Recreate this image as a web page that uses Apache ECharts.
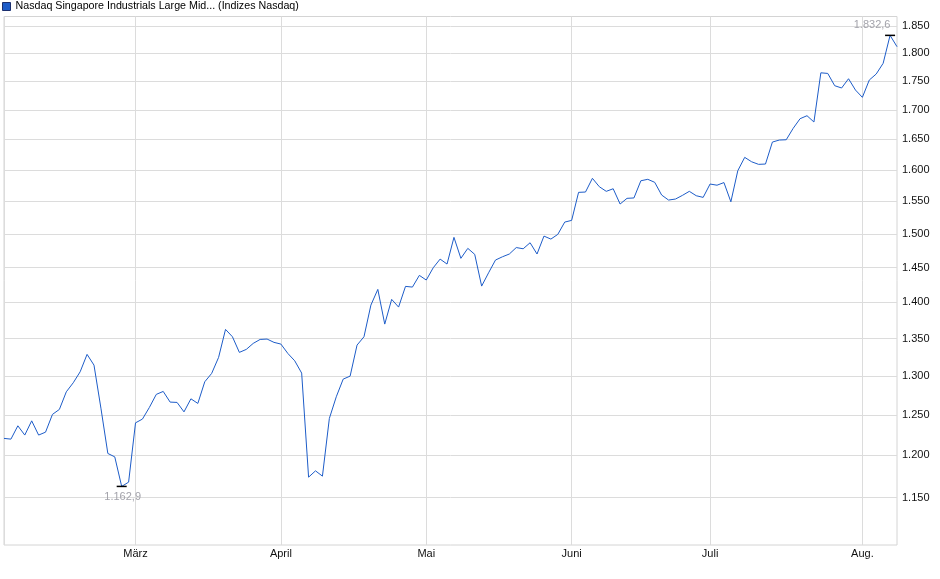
<!DOCTYPE html>
<html>
<head>
<meta charset="utf-8">
<title>Nasdaq Singapore Industrials Large Mid</title>
<script src="https://cdn.jsdelivr.net/npm/echarts@6/dist/echarts.min.js"></script>
<style>
  html, body { margin: 0; padding: 0; background: #fff; }
  #chart { width: 940px; height: 579px; }
</style>
</head>
<body>
<div id="chart"></div>
<script>
// Handelstage (Nasdaq-Kalender 2025)
var dates = [
  "2025-02-03","2025-02-04","2025-02-05","2025-02-06","2025-02-07","2025-02-10","2025-02-11","2025-02-12","2025-02-13","2025-02-14",
  "2025-02-18","2025-02-19","2025-02-20","2025-02-21","2025-02-24","2025-02-25","2025-02-26","2025-02-27","2025-02-28",
  "2025-03-03","2025-03-04","2025-03-05","2025-03-06","2025-03-07","2025-03-10","2025-03-11","2025-03-12","2025-03-13","2025-03-14",
  "2025-03-17","2025-03-18","2025-03-19","2025-03-20","2025-03-21","2025-03-24","2025-03-25","2025-03-26","2025-03-27","2025-03-28","2025-03-31",
  "2025-04-01","2025-04-02","2025-04-03","2025-04-04","2025-04-07","2025-04-08","2025-04-09","2025-04-10","2025-04-11","2025-04-14",
  "2025-04-15","2025-04-16","2025-04-17","2025-04-21","2025-04-22","2025-04-23","2025-04-24","2025-04-25","2025-04-28","2025-04-29","2025-04-30",
  "2025-05-01","2025-05-02","2025-05-05","2025-05-06","2025-05-07","2025-05-08","2025-05-09","2025-05-12","2025-05-13","2025-05-14",
  "2025-05-15","2025-05-16","2025-05-19","2025-05-20","2025-05-21","2025-05-22","2025-05-23","2025-05-27","2025-05-28","2025-05-29","2025-05-30",
  "2025-06-02","2025-06-03","2025-06-04","2025-06-05","2025-06-06","2025-06-09","2025-06-10","2025-06-11","2025-06-12","2025-06-13",
  "2025-06-16","2025-06-17","2025-06-18","2025-06-20","2025-06-23","2025-06-24","2025-06-25","2025-06-26","2025-06-27","2025-06-30",
  "2025-07-01","2025-07-02","2025-07-03","2025-07-07","2025-07-08","2025-07-09","2025-07-10","2025-07-11","2025-07-14","2025-07-15",
  "2025-07-16","2025-07-17","2025-07-18","2025-07-21","2025-07-22","2025-07-23","2025-07-24","2025-07-25","2025-07-28","2025-07-29","2025-07-30","2025-07-31",
  "2025-08-01","2025-08-04","2025-08-05","2025-08-06","2025-08-07","2025-08-08"
];

// Schlusskurse (aus dem Bild geschaetzt)
var closes = [
  1220.6, 1219.7, 1236.2, 1224.7, 1242.4, 1224.7, 1228.3, 1250.5, 1256.8, 1279.3,
  1291.0, 1305.4, 1328.5, 1314.2, 1258.4, 1202.2, 1198.1, 1162.9, 1167.9,
  1239.9, 1244.6, 1259.3, 1276.0, 1279.8, 1266.1, 1265.7, 1253.7, 1270.3, 1264.4,
  1292.3, 1303.3, 1324.5, 1362.4, 1352.3, 1331.2, 1335.2, 1343.3, 1348.7, 1349.2, 1344.7,
  1342.4, 1329.8, 1319.9, 1303.7, 1173.8, 1181.3, 1175.0, 1245.4, 1272.9, 1295.8,
  1299.7, 1341.0, 1352.3, 1396.2, 1418.5, 1369.7, 1404.3, 1393.4, 1422.8, 1421.8, 1438.7,
  1431.9, 1449.7, 1462.5, 1455.2, 1494.9, 1463.6, 1478.4, 1469.5, 1423.2, 1442.4,
  1461.1, 1465.9, 1470.0, 1479.6, 1477.8, 1486.8, 1470.0, 1496.8, 1492.3, 1499.4, 1518.1,
  1520.7, 1564.3, 1564.8, 1586.6, 1573.2, 1565.9, 1570.0, 1546.0, 1554.9, 1555.5,
  1582.7, 1585.0, 1580.2, 1560.1, 1552.2, 1553.8, 1559.5, 1565.9, 1559.0, 1556.4,
  1577.5, 1575.6, 1579.8, 1549.5, 1598.8, 1620.5, 1613.3, 1609.1, 1609.6, 1645.7,
  1649.0, 1649.5, 1668.6, 1684.9, 1690.0, 1679.3, 1764.7, 1763.6, 1741.9, 1737.9, 1754.2, 1734.3,
  1721.6, 1751.9, 1762.6, 1781.7, 1832.6, 1811.8
];

var yTicks = [1150, 1200, 1250, 1300, 1350, 1400, 1450, 1500, 1550, 1600, 1650, 1700, 1750, 1800, 1850];
var monthNames = { "02": "Feb.", "03": "März", "04": "April", "05": "Mai", "06": "Juni", "07": "Juli", "08": "Aug." };
var seriesName = "Nasdaq Singapore Industrials Large Mid... (Indizes Nasdaq)";

var FONT = "'Liberation Sans', Arial, sans-serif";

function isMonthStart(i) {
  return i === 0 || dates[i].slice(5, 7) !== dates[i - 1].slice(5, 7);
}

// 1850 -> "1.850"
function fmtInt(v) {
  var s = String(Math.round(v));
  return s.length > 3 ? s.slice(0, -3) + "." + s.slice(-3) : s;
}

// 1832.6 -> "1.832,6"
function fmtDec(v) {
  var parts = v.toFixed(1).split(".");
  return fmtInt(Number(parts[0])) + "," + parts[1];
}

var myChart = echarts.init(document.getElementById("chart"));
var option = {
  animation: false,
  textStyle: { fontFamily: FONT },
  legend: {
    data: [seriesName],
    left: 0,
    top: 0,
    padding: [1, 2],
    icon: "rect",
    itemWidth: 8,
    itemHeight: 8,
    itemGap: 4,
    itemStyle: { borderColor: "#1b2f6e", borderWidth: 1 },
    textStyle: { fontSize: 10.7, color: "#000", fontFamily: FONT },
    selectedMode: false
  },
  grid: {
    left: 4,
    right: 43,
    top: 16.5,
    bottom: 34,
    show: true,
    borderColor: "#d4d4d4",
    borderWidth: 1
  },
  xAxis: {
    type: "category",
    data: dates,
    boundaryGap: false,
    axisLine: { show: false },
    axisTick: { show: false },
    axisLabel: {
      interval: function (i) { return i > 0 && isMonthStart(i); },
      formatter: function (v) { return monthNames[v.slice(5, 7)]; },
      fontSize: 11,
      color: "#111",
      margin: 3,
      fontFamily: FONT
    },
    splitLine: {
      show: true,
      interval: function (i) { return isMonthStart(i); },
      lineStyle: { color: "#dcdcdc", width: 1 }
    }
  },
  yAxis: {
    type: "log",
    position: "right",
    min: 1096.2,
    max: 1867.8,
    axisLine: { show: false },
    axisTick: { show: false, customValues: yTicks },
    axisLabel: {
      customValues: yTicks,
      formatter: function (v) { return fmtInt(v); },
      fontSize: 11,
      color: "#111",
      margin: 5,
      fontFamily: FONT
    },
    splitLine: { show: true, lineStyle: { color: "#dcdcdc", width: 1 } }
  },
  series: [
    {
      name: seriesName,
      type: "line",
      data: closes,
      symbol: "none",
      color: "#1d5cc8",
      lineStyle: { width: 1, color: "#1d5cc8" },
      markPoint: {
        symbol: "rect",
        symbolSize: [10, 1.5],
        itemStyle: { color: "#000" },
        label: {
          color: "#a3a3ab",
          fontSize: 11,
          fontFamily: FONT,
          formatter: function (p) { return fmtDec(p.value); }
        },
        data: [
          { type: "max", label: { position: "top", distance: 4, offset: [-18, 0] } },
          { type: "min", label: { position: "bottom", distance: 4, offset: [1, 0] } }
        ]
      }
    }
  ]
};
myChart.setOption(option);
</script>
</body>
</html>
